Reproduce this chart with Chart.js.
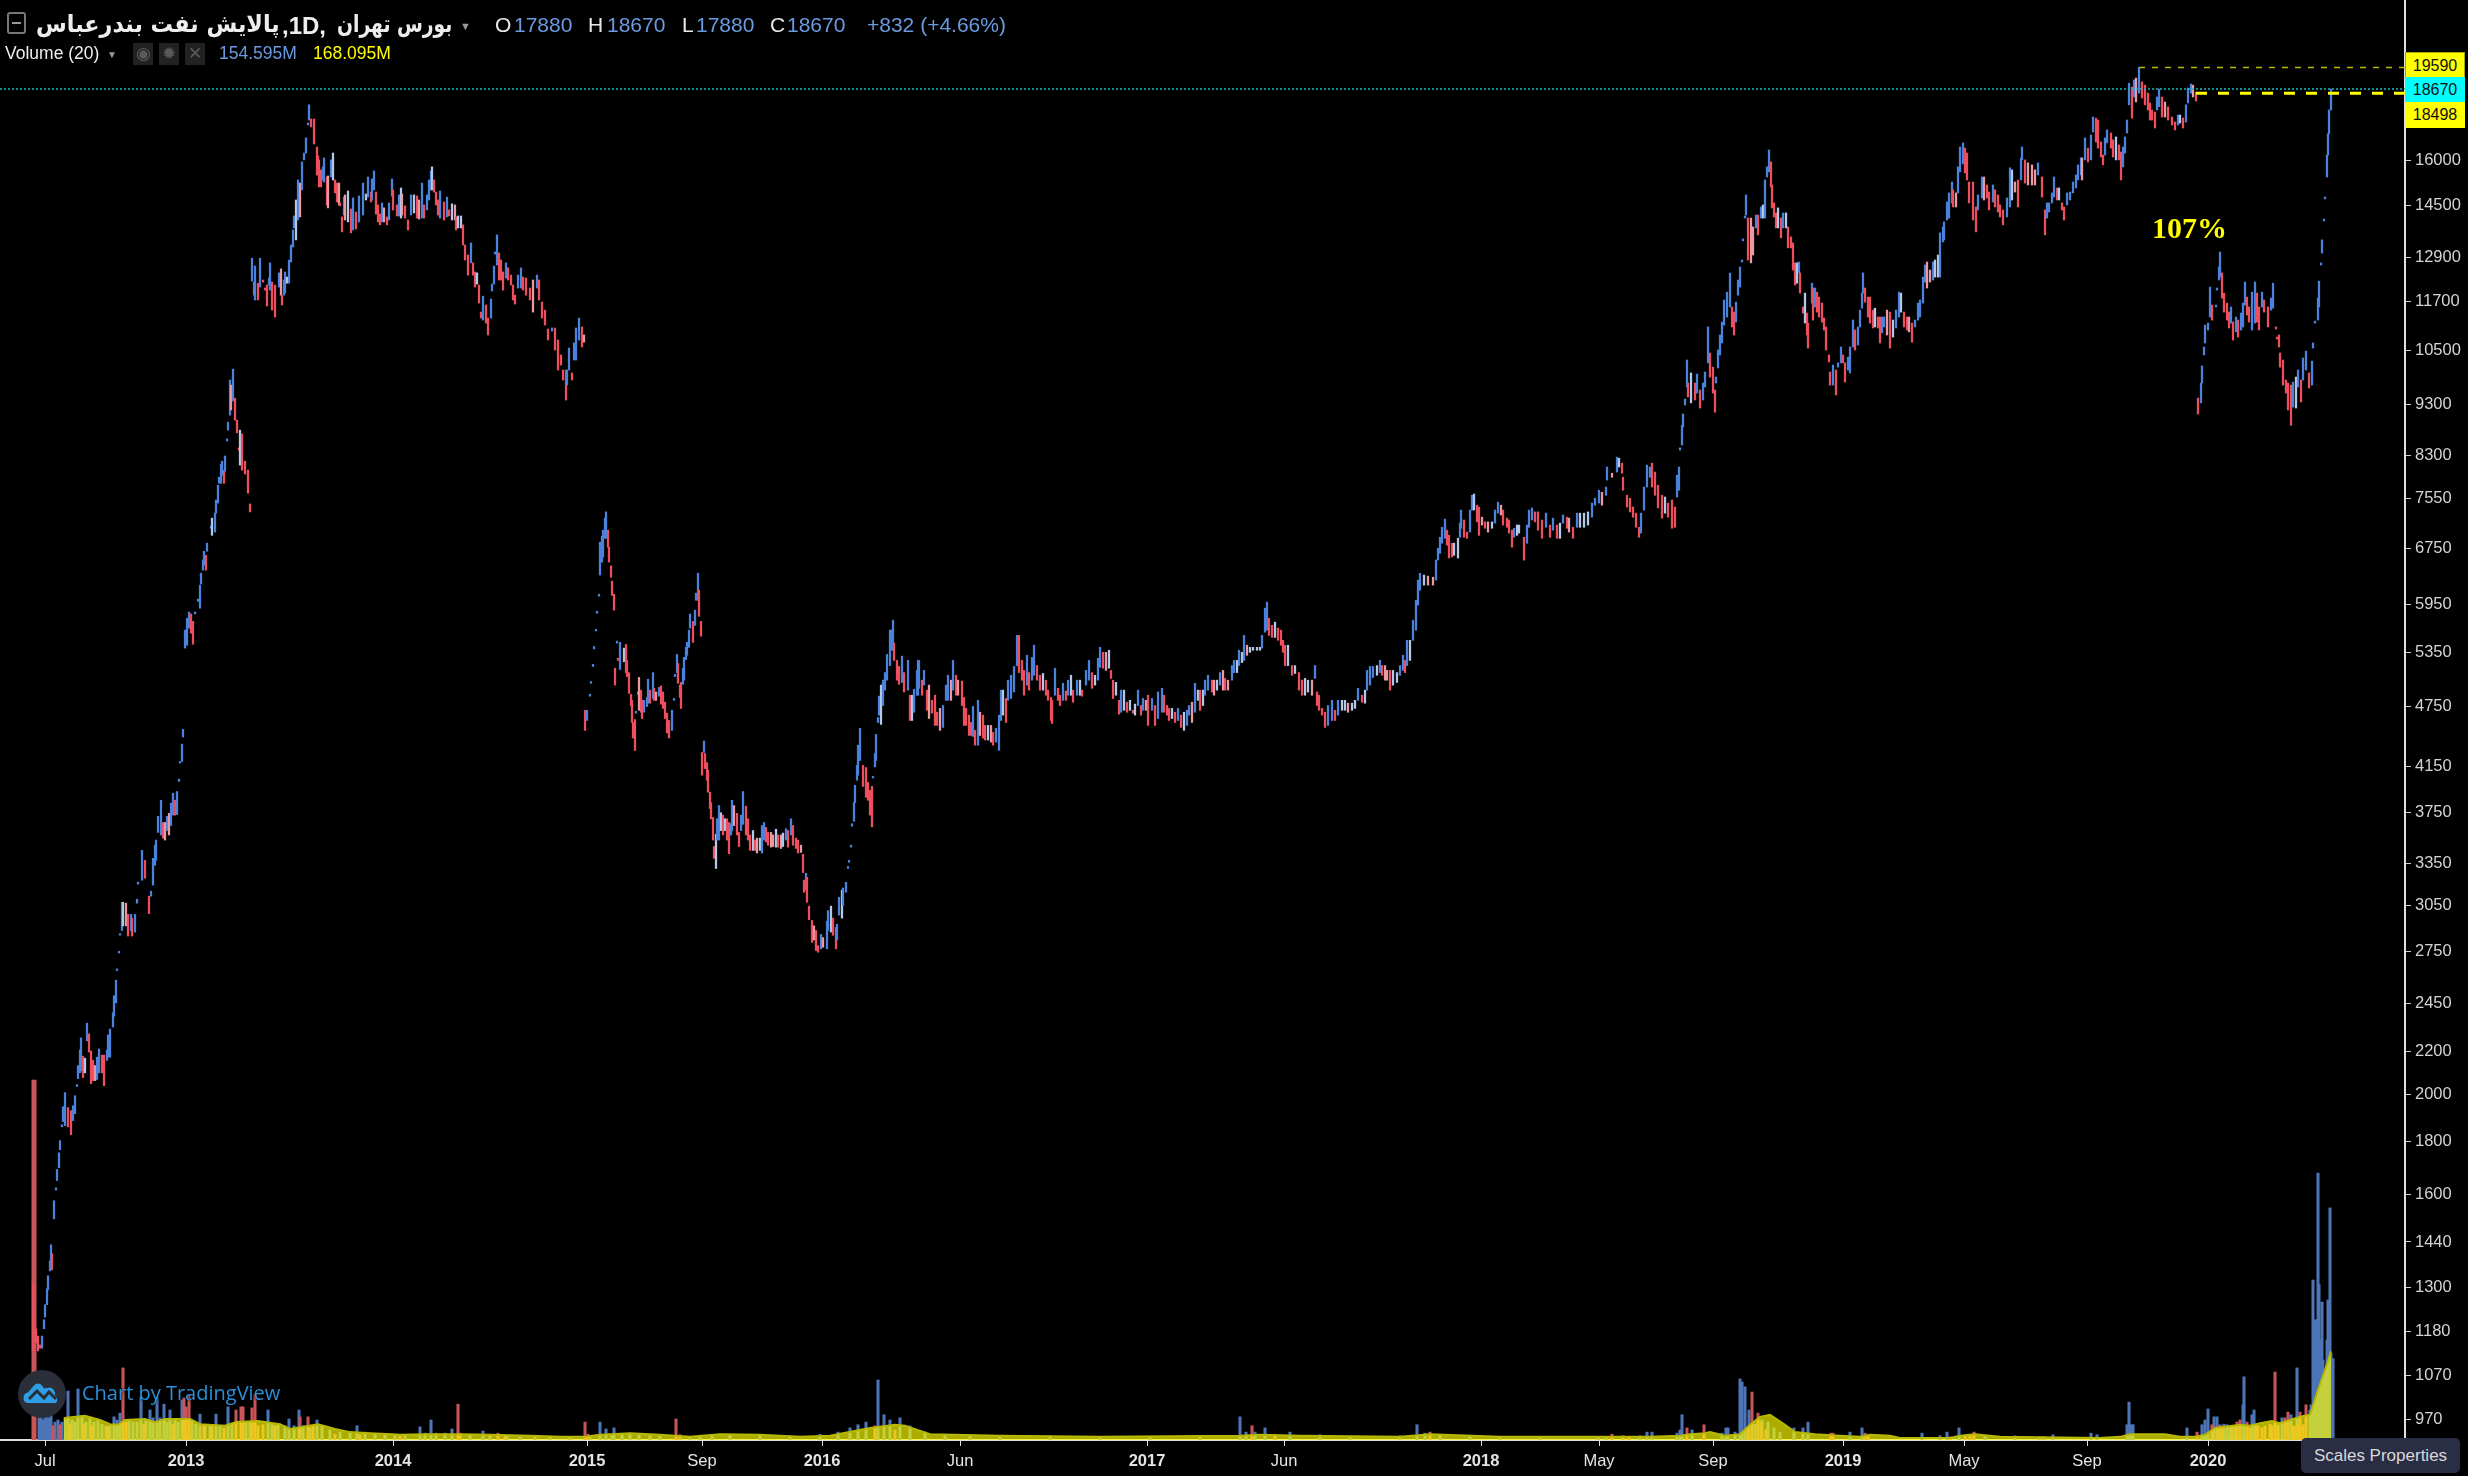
<!DOCTYPE html>
<html lang="fa">
<head>
  <meta charset="UTF-8">
  <title>پالایش نفت بندرعباس</title>
  <script src="https://cdn.jsdelivr.net/npm/chart.js"></script>
  <style>
    html, body { margin: 0; padding: 0; background: #000; overflow: hidden; }
    body { width: 2468px; height: 1476px; position: relative; font-family: "Liberation Sans", Arial, sans-serif; }
    #chart { position: absolute; left: 0; top: 0; }
    .txt { position: absolute; white-space: nowrap; line-height: 1; }
    .ohlc { font-size: 21px; top: 14px; color: #6a9be0; }
    .ohlc.key { color: #e8e8e8; }
    .fa { top: 10px; font: bold 24px "DejaVu Sans", sans-serif; color: #eee; transform-origin: left center; }
    .tag { position: absolute; left: 2405px; width: 60px; color: #111; font-size: 16px; text-align: center; box-sizing: border-box; }
    .icon { position: absolute; top: 43px; width: 20px; height: 22px; background: #222; color: #5a5a5a; font-size: 17px; line-height: 22px; text-align: center; }
  </style>
</head>
<body>
  <canvas id="chart" width="2468" height="1476"></canvas>

  <!-- header -->
  <div style="position:absolute;left:7px;top:12px;width:15px;height:18px;border:2px solid #777;border-radius:3px"><div style="margin:8px 3px 0;height:2px;background:#999"></div></div>
  <div class="txt fa" dir="rtl" style="left:36px;transform:scaleX(0.93)">پالایش نفت بندرعباس</div>
  <div class="txt" dir="ltr" style="left:282px;top:12px;font:bold 24px 'Liberation Sans';color:#eee">,1D,</div>
  <div class="txt fa" dir="rtl" style="left:337px;transform:scaleX(0.78)">بورس تهران</div>
  <div class="txt" style="left:460px;top:21px;color:#999;font-size:11px">▼</div>
  <div class="txt ohlc key" style="left:495px">O</div><div class="txt ohlc" style="left:514px">17880</div>
  <div class="txt ohlc key" style="left:588px">H</div><div class="txt ohlc" style="left:607px">18670</div>
  <div class="txt ohlc key" style="left:682px">L</div><div class="txt ohlc" style="left:696px">17880</div>
  <div class="txt ohlc key" style="left:770px">C</div><div class="txt ohlc" style="left:787px">18670</div>
  <div class="txt ohlc" style="left:867px">+832 (+4.66%)</div>
  <div class="txt" style="left:5px;top:45px;font-size:17.5px;color:#eee">Volume (20)</div>
  <div class="txt" style="left:107px;top:50px;color:#999;font-size:10px">▼</div>
  <div class="icon" style="left:133px">◉</div><div class="icon" style="left:159px">✹</div><div class="icon" style="left:185px">✕</div>
  <div class="txt" style="left:219px;top:45px;font-size:17.5px;color:#6a9be0">154.595M</div>
  <div class="txt" style="left:313px;top:45px;font-size:17.5px;color:#ffff00">168.095M</div>

  <!-- price tags -->
  <div class="tag" style="top:52px;height:25px;line-height:25px;background:#ffff00;border:1px solid #a8a800;border-bottom:0">19590</div>
  <div class="tag" style="top:77px;height:25px;line-height:25px;background:#00ffff">18670</div>
  <div class="tag" style="top:102px;height:26px;line-height:26px;background:#ffff00">18498</div>
  <div class="txt" style="left:2152px;top:211px;font:bold 30px 'Liberation Serif',serif;color:#ffff00">107%</div>

  <!-- watermark -->
  <svg style="position:absolute;left:18px;top:1370px" width="48" height="48" viewBox="0 0 48 48">
    <circle cx="24" cy="24" r="24" fill="#2a2e39"/>
    <path d="M9 33 a5.5 5.5 0 0 1 1-10.5 l6-7 a5 5 0 0 1 8 0 l2 3 6-1 a7 7 0 0 1 5 8 a5 5 0 0 1 1 7.5 z" fill="#2e9fe6"/>
    <path d="M11 29 l8-8 7 7 5-6 7 7" stroke="#2a2e39" stroke-width="3" fill="none"/>
  </svg>
  <div class="txt" style="left:82px;top:1379px;font:20px 'Open Sans',sans-serif;color:#2a8fd8;text-shadow:0 0 3px #000">Chart by TradingView</div>
  <div class="txt" style="left:2301px;top:1438px;width:159px;height:35px;line-height:35px;text-align:center;background:#2a2e44;border-radius:5px;color:#d8d8d8;font-size:17px">Scales Properties</div>

  <script>
    // candles: session number, high, low
    const barNo = [
      0,3,5,7,9,11,12,14,15,17, 18,19,21,23,24,26,27,29,30,32,
      35,38,40,42,44,45,47,48,50,52, 54,56,58,60,62,64,66,69,71,74,
      75,77,80,81,83,84,86,87,89,90, 93,95,98,99,102,104,105,109,112,116,
      118,120,122,123,125,128,130,132,134,136, 138,140,142,144,146,147,149,150,152,154,
      156,158,160,162,165,167,168,170,171,173, 174,178,179,182,183,185,186,188,189,191,
      192,194,195,197,198,200,202,204,206,207, 209,212,215,217,219,221,222,225,227,230,
      232,234,236,237,239,242,246,248,249,251, 252,254,256,258,260,261,263,265,267,269,
      271,273,275,276,278,281,284,285,286,288, 290,291,294,295,298,300,302,304,306,307,
      309,311,312,315,318,320,323,326,330,333, 335,338,339,341,343,345,347,349,351,354,
      356,359,360,364,366,368,369,372,375,378, 381,384,386,389,391,394,396,398,399,401,
      403,405,407,411,414,416,419,422,423,425, 428,430,432,435,438,440,442,444,446,448,
      450,453,455,458,459,461,462,464,466,468, 470,473,475,478,480,482,485,488,490,493,
      497,500,504,506,509,512,515,519,522,525, 528,530,533,534,536,539,541,543,546,549,
      551,552,554,557,558,560,561,563,564,566, 567,569,570,572,573,575,576,578,579,581,
      582,584,585,587,591,593,594,596,598,599, 600,602,603,605,606,608,609,611,614,615,
      617,620,621,623,626,628,630,632,634,636, 639,641,642,644,645,647,648,650,651,653,
      654,656,657,660,662,663,665,666,668,669, 671,672,674,675,677,678,680,681,683,684,
      686,688,690,692,694,696,698,699,701,704, 706,708,710,713,715,717,720,722,724,727,
      729,731,733,735,738,740,743,745,748,750, 753,755,758,760,763,765,768,770,771,773,
      774,776,779,781,783,785,788,790,794,795, 798,800,803,804,806,809,810,813,815,816,
      818,819,821,822,824,825,827,830,833,835, 837,839,840,842,843,845,846,848,850,852,
      854,857,858,860,861,864,866,869,871,875, 877,879,881,884,885,886,889,891,894,896,
      899,902,904,907,910,913,915,918,920,923, 925,929,931,933,936,938,940,942,945,947,
      950,952,955,958,960,963,966,968,970,973, 975,978,981,984,986,989,991,994,996,999,
      1001,1004,1007,1010,1013,1015,1018,1019,1022,1025, 1027,1030,1033,1035,1038,1040,1044,1047,1049,1053,
      1056,1059,1062,1065,1067,1070,1073,1076,1078,1080, 1083,1086,1088,1091,1094,1097,1100,1102,1105,1108,
      1110,1113,1115,1119,1122,1125,1129,1131,1134,1136, 1139,1142,1145,1148,1151,1154,1156,1159,1162,1165,
      1167,1170,1172,1175,1179,1181,1184,1187,1190,1192, 1195,1199,1201,1204,1206,1209,1211,1214,1217,1220,
      1224,1227,1229,1232,1234,1236,1239,1242,1245,1248, 1250,1252,1255,1259,1262,1266,1269,1272,1275,1279,
      1282,1284,1286,1289,1292,1295,1299,1302,1305,1309, 1312,1315,1319,1322,1325,1329,1332,1334,1337,1340,
      1344,1347,1349,1352,1354,1357,1360,1364,1367,1370, 1372,1374,1377,1380,1383,1385,1387,1391,1395,1400,
      1403,1405,1407,1409,1412,1414,1416,1419,1421,1425, 1427,1428,1431,1434,1437,1439,1441,1444,1446,1449,
      1452,1455,1459,1462,1465,1468,1470,1474,1476,1479, 1481,1484,1486,1491,1494,1496,1499,1502,1505,1509,
      1513,1517,1520,1524,1527,1530,1534,1536,1540,1544, 1547,1551,1555,1559,1562,1566,1569,1573,1574,1579,
      1584,1586,1589,1590,1594,1597,1600,1603,1606,1608, 1611,1614,1617,1619,1622,1625,1629,1632,1635,1639,
      1642,1644,1646,1647,1649,1650,1652,1654,1655,1658, 1662,1664,1667,1670,1672,1675,1677,1680,1682,1683,
      1685,1687,1689,1691,1694,1697,1699,1701,1703,1705, 1707,1709,1710,1712,1713,1715,1718,1720,1723,1725,
      1728,1730,1732,1734,1736,1738,1739,1741,1743,1745, 1748,1750,1753,1755,1758,1760,1762,1764,1766,1767,
      1770,1772,1774,1775,1779,1780,1782,1784,1786,1789, 1791,1793,1796,1797,1800,1803,1805,1808,1810,1812,
      1815,1817,1820,1822,1825,1827,1829,1830,1832,1835, 1837,1840,1842,1845,1847,1849,1851,1854,1857,1860,
      1863,1866,1868,1871,1874,1876,1879,1882,1885,1887, 1890,1892,1894,1897,1900,1902,1905,1907,1910,1911,
      1914,1916,1919,1920,1923,1925,1927,1930,1932,1934, 1936,1940,1943,1945,1949,1951,1954,1956,1960,1962,
      1965,1967,1970,1974,1977,1979,1982,1985,1988,1989, 1992,1995,1999,2002,2005,2009,2012,2014,2016,2019,
      2021,2024,2026,2029,2031,2034,2037,2040,2043,2045, 2048,2049,2052,2055,2058,2060,2063,2065,2068,2070,
      2072,2074,2078,2080,2083,2086,2088,2090,2092,2094, 2096,2099,2101,2103,2106,2109,2112,2115,2117,2119,
      2122,2124,2126,2129,2132,2135,2139,2142,2145,2147, 2150,2153,2155,2158,2160,2163,2165,2168,2169,2171,
      2172,2175,2177,2179,2183,2184,2186,2187,2189,2191, 2194,2196,2198,2200,2203,2205,2208,2210,2212,2214,
      2216,2219,2222,2224,2226,2229,2231,2235,2238,2240, 2243,2244,2246,2247,2250,2253,2255,2258,2260,2263,
      2265,2268,2270,2273,2276,2279,2280,2282,2285,2286, 2288,2289,2291,2292,2294,2295,2296,2298
    ];
    const barHigh = [
      1310,1183,1164,1141,1164,1207,1248,1293,1331,1376, 1426,1398,1573,1619,1686,1750,1798,1863,1939,2001,
      1935,1922,1943,1987,2037,2125,2200,2260,2170,2160, 2335,2280,2195,2150,2125,2165,2205,2175,2175,2200,
      2275,2305,2390,2482,2570,2635,2740,2850,3056,3056, 3050,2975,2975,2950,2975,3077,3196,3430,3355,3098,
      3133,3370,3470,3510,3700,3835,3650,3650,3700,3725, 3810,3895,3835,3910,4020,4180,4345,4490,5600,5750,
      5830,5805,5710,5830,6000,6190,6357,6545,6675,6615, 6795,7060,7185,7265,7480,7730,7870,8100,8155,7995,
      8250,8570,8895,9770,9660,10010,9385,8935,8400,8740, 8665,8155,7995,7415,12810,12150,12590,12120,12810,12205,
      11990,12070,12260,12680,12150,12070,12400,12510,11800,12205, 12425,12285,12760,13195,13645,14075,14585,15250,15145,15875,
      16190,16745,17310,18025,17465,17465,16410,16085,15945,15595, 15700,16015,15350,15385,15945,16190,15250,15145,15145,14490,
      14045,14680,14750,14880,14295,14650,14200,14715,15145,14780, 15350,14845,15285,15560,14845,14425,14135,14490,14330,14045,
      14490,15285,14915,14425,14750,14980,14780,14395,13950,14750, 14750,14715,14585,15145,14425,14750,15250,15560,15700,15250,
      14845,14585,14880,14520,14680,14265,14460,14425,14045,14075, 14075,13800,13195,12905,13255,12680,12425,12400,12070,11365,
      11775,11545,11215,11700,12095,12590,12990,13495,12960,12760, 12425,12680,12540,12340,12070,11800,12340,12540,12285,12260,
      11990,12205,12340,12205,11620,11415,10945,10970,10970,10680, 10330,9990,9990,9990,10490,9925,10610,10970,11215,10995,
      10800,4685,4685,4855,4995,5190,5400,5610,5840,6065, 6810,6900,6995,7185,7285,6995,6735,6460,6245,6065,
      5145,5465,5260,5450,5380,5425,5235,5095,4855,4790, 4560,4590,4675,4880,5040,4900,4790,4790,4820,5020,
      4900,5095,4920,4880,4930,4945,4880,4770,4655,4580, 4685,4810,5075,5305,5200,4955,4985,5145,5270,5390,
      5450,5600,5805,5710,5855,6080,6355,6120,5710,4265, 4375,4255,4170,4100,3905,3815,3690,3460,3555,3680,
      3790,3730,3710,3680,3680,3650,3640,3835,3790,3725, 3570,3710,3910,3785,3680,3550,3585,3510,3525,3525,
      3625,3650,3610,3570,3570,3550,3595,3550,3550,3565, 3600,3585,3680,3625,3525,3510,3470,3400,3210,3260,
      3230,3030,2935,2900,2870,2775,2845,2825,2930,3000, 3030,2950,2890,2910,3090,3140,3155,3195,3310,3355,
      3470,3640,3815,3965,4145,4335,4500,4145,4125,3990, 3920,3955,4045,4255,4440,4610,4835,4955,5010,5095,
      5305,5600,5600,5725,5440,5235,5165,5285,5095,5235, 4845,4845,4910,5120,5235,5235,5010,5120,4900,4955,
      4790,4845,4665,4705,4735,4955,5065,5010,5235,5065, 5010,5000,4820,4705,4635,4560,4725,4480,4790,4665,
      4635,4530,4530,4530,4460,4500,4635,4900,4900,4810, 5010,5065,5165,5535,5535,5235,5120,5295,5095,5270,
      5415,5175,5065,5085,5010,4900,4820,4790,5145,4920, 4845,4975,4890,5010,5065,4900,5010,5010,4900,5120,
      5235,5095,5065,5260,5390,5330,5330,5355,5120,5010, 4985,4790,4900,4900,4770,4790,4685,4750,4900,4735,
      4810,4790,4845,4810,4735,4880,4920,4845,4735,4705, 4705,4665,4705,4635,4665,4685,4735,4770,4975,4900,
      4900,4900,5010,5065,5010,5010,5010,5095,5120,5030, 5010,5175,5235,5235,5355,5330,5535,5415,5390,5390,
      5390,5390,5535,5880,5960,5750,5660,5700,5625,5600, 5475,5415,5415,5175,5175,5095,5010,5030,5010,5010,
      5175,4880,4845,4705,4665,4735,4790,4685,4790,4790, 4790,4760,4760,4790,4920,4845,4900,5120,5165,5165,
      5175,5235,5175,5175,5120,5120,5120,5095,5175,5295, 5235,5475,5475,5725,5985,6260,6355,6330,6315,6300,
      6545,6720,6885,7040,7170,6995,6915,6795,6795,6870, 7105,7315,7155,6965,7315,7560,7580,7395,7365,7200,
      7125,7125,7125,7315,7445,7395,7315,7185,7155,6995, 7025,7075,7075,6885,7075,7315,7350,7285,7285,7155,
      7265,7075,7185,7075,7105,7235,7200,7185,7040,7265, 7265,7265,7285,7430,7510,7645,7610,7700,8050,7940,
      8230,8210,8120,7870,7560,7510,7365,7265,7040,7265, 7700,8085,8050,8120,7960,7730,7560,7530,7430,7480,
      7365,7905,8050,8400,8835,9060,9365,10215,9705,9925, 9705,9900,9555,9705,9945,10995,10375,10055,9555,9835,
      10445,10800,11115,11675,11880,12395,11495,11365,11620,12205, 12565,12760,13375,14075,14750,14010,14010,13735,14105,14105,
      14360,14425,15250,15700,16300,15875,15080,14490,14170,14330, 14010,14170,14170,13735,13435,13255,12680,12680,12705,12400,
      11495,11855,11340,11090,12120,11990,11990,11880,11750,11595, 11215,10995,10330,9945,10100,9990,10150,10515,10330,10150,
      10280,10515,11165,10920,10995,11415,11855,12400,11990,11750, 11750,11415,11465,11240,11240,11240,11240,11415,11365,11165,
      11415,11880,11855,11365,11240,11240,11090,11165,11595,11675, 12285,12620,12705,12480,12705,12760,12905,13555,13735,13890,
      14520,14815,15180,14915,14815,15700,16410,16560,16370,16190, 15180,15180,14360,14750,15350,15350,15080,14845,15080,14915,
      14750,14425,14265,14650,15665,15595,15180,15250,16015,16410, 15945,15840,15770,15595,15840,15350,14265,14490,14490,14815,
      15350,14980,14980,14490,14360,14815,14845,15180,15420,15770, 16015,16015,16745,16370,16855,17540,17500,17425,16595,16120,
      16745,17045,16930,16670,16780,16485,16225,16410,16780,17425, 18910,18750,19050,19130,19590,18970,18830,18500,18100,17820,
      17740,18340,18670,18340,18140,17945,17540,17350,17620,17620, 17500,18025,18710,18880,18830,18540,9385,9705,10080,10515,
      11040,11090,12015,11545,11545,11990,12565,12990,12400,11855, 11595,11365,11495,11115,11240,11165,11340,11595,12150,11750,
      11495,11880,12150,11855,11495,11880,11675,11495,11725,12120, 10995,10750,10800,10375,10215,9770,9705,9660,9725,9835,
      9990,9770,10260,10420,9925,10190,10610,11140,11725,12175, 12680,13345,13980,14680,16120,16895,17820,18670
    ];
    const barLow = [
      1126,1146,1126,1133,1133,1183,1214,1248,1290,1346, 1376,1349,1511,1611,1645,1693,1762,1854,1876,1859,
      1854,1822,1880,1909,2028,2064,2091,2100,2069,2091, 2245,2190,2041,2055,2055,2060,2091,2091,2032,2150,
      2165,2165,2315,2372,2443,2625,2730,2840,2870,2900, 2900,2835,2870,2835,2860,3050,3182,3210,3224,2980,
      3098,3175,3318,3355,3570,3550,3525,3510,3585,3550, 3625,3710,3710,3715,4000,4165,4180,4415,5380,5415,
      5625,5562,5427,5805,5970,5880,6205,6400,6470,6400, 6675,7025,6915,6965,7265,7430,7765,7765,7905,7765,
      7975,8530,8740,9035,9140,9325,8935,8685,8360,8085, 7995,7925,7595,7285,12175,11800,11675,11675,12015,12150,
      11935,11520,12070,11935,11415,11240,12015,11800,11545,11800, 11855,12120,12120,12705,13135,13705,13345,13950,14045,14915,
      15945,16190,17235,17425,17160,16520,15420,15420,15015,15015, 15250,15180,14425,14330,15350,15250,14815,14520,14425,14395,
      13585,14105,13950,13890,13555,13645,13675,13890,14105,14585, 14680,14520,14585,14915,14135,13890,13800,13890,13890,13800,
      13950,14715,14265,14075,14075,14010,14105,14010,13645,14105, 14170,14010,13980,14010,14010,14265,14585,14915,14915,14845,
      14425,14105,14010,13950,14045,14075,13950,13950,13645,13705, 13705,13195,12760,12340,12680,12340,12015,12095,11595,11215,
      11165,11090,10800,11215,11910,12095,12930,12620,12205,12205, 11935,12260,12205,12070,11675,11570,11990,11990,11935,11800,
      11675,11365,11990,11675,11215,11040,10680,10895,10445,9990, 10100,9770,9345,9660,9990,9770,10215,10215,10680,10515,
      10630,4480,4580,4835,4975,5165,5370,5590,5815,6040, 6330,6515,6590,6870,6870,6735,6515,6300,6050,5855,
      4955,5440,5235,5130,5220,5095,5050,4865,4735,4560, 4405,4285,4655,4855,4685,4665,4600,4665,4725,4760,
      4760,4810,4790,4790,4835,4750,4705,4600,4455,4405, 4480,4790,5050,5095,4975,4820,4705,4965,5010,5245,
      5295,5390,5625,5450,5660,5985,5985,5775,5525,4055, 4265,4115,4010,3905,3765,3680,3510,3370,3295,3510,
      3510,3585,3550,3585,3510,3405,3550,3585,3625,3550, 3460,3585,3635,3550,3510,3430,3430,3430,3410,3430,
      3410,3510,3495,3470,3455,3460,3455,3455,3445,3460, 3510,3455,3550,3470,3445,3410,3415,3265,3125,3140,
      3056,2940,2795,2810,2745,2735,2755,2765,2755,2870, 2860,2840,2755,2810,2970,2950,3035,3125,3295,3340,
      3455,3620,3660,3815,4010,4055,4190,3955,3860,3835, 3710,3615,4030,4130,4190,4560,4635,4540,4735,4900,
      5010,5175,5355,5355,5235,5010,4965,4985,4880,4900, 4580,4580,4665,4845,4845,4920,4845,4955,4685,4600,
      4655,4530,4530,4480,4510,4790,4790,4790,4900,4845, 4845,4735,4530,4530,4430,4430,4420,4335,4335,4430,
      4405,4385,4385,4365,4335,4365,4285,4580,4635,4560, 4790,4810,4880,5175,5095,5010,4845,4955,4900,5010,
      5065,5010,4900,4900,4845,4790,4580,4550,4845,4790, 4735,4790,4790,4845,4845,4770,4845,4845,4835,4955,
      5010,4920,4955,5010,5155,5145,5120,5145,5030,4810, 4845,4645,4665,4685,4665,4685,4655,4635,4735,4635,
      4685,4685,4530,4685,4530,4600,4665,4665,4635,4580, 4600,4560,4580,4510,4480,4530,4635,4560,4665,4790,
      4685,4735,4845,4900,4880,4845,4900,4955,4900,4900, 4900,5010,5095,5095,5175,5210,5235,5295,5330,5355,
      5355,5355,5380,5575,5600,5535,5510,5510,5475,5415, 5330,5175,5175,5065,5085,4900,4845,4845,4880,4845,
      5030,4735,4685,4635,4510,4530,4580,4580,4635,4685, 4685,4665,4685,4705,4790,4770,4760,4900,4955,5040,
      5065,5095,5065,5010,5010,4900,4955,4985,5065,5120, 5095,5175,5235,5475,5600,5920,6120,6190,6190,6190,
      6260,6545,6645,6795,6870,6765,6575,6590,6615,6575, 6885,7025,6885,6870,6965,7315,7315,7125,6915,7075,
      7025,6965,7025,7105,7265,7235,7075,7040,6950,6735, 6885,6915,6950,6545,6795,7040,7155,7125,6995,6870,
      7040,6885,6995,6870,6870,7105,7025,6965,6870,7040, 7040,7040,7075,7200,7395,7430,7395,7560,7820,7870,
      7960,8050,7940,7645,7365,7285,7200,7040,6885,6950, 7315,7700,7870,7700,7560,7350,7185,7265,7200,7025,
      7040,7530,7645,8360,8455,8800,9240,9620,9410,9285, 9345,9490,9180,9345,9620,10150,9835,9490,9095,9705,
      10035,10330,10610,11040,11240,11495,10995,10800,11115,11800, 12015,12705,13315,14010,14105,12760,12680,12905,13705,13495,
      14010,14010,14010,15350,15525,15015,14330,14045,13705,13705, 13405,13705,13705,13110,13110,12480,12070,12120,12400,11855,
      11340,11090,10800,10490,11595,11165,11495,11365,11240,11115, 10920,10445,10170,9660,9660,9450,10055,10150,10150,9725,
      9990,9925,10515,10445,10560,10995,11465,11855,11620,11240, 11090,10970,10995,10970,10610,10850,10995,10800,10490,10750,
      10970,11240,11365,10995,10920,10875,10630,10995,11165,11240, 11595,12150,11990,12150,12205,12285,12285,12285,13285,13345,
      13950,14010,14490,14360,14360,14815,15525,15805,15490,15250, 14490,13950,13585,14265,14650,14585,14650,14265,14520,14360,
      14200,14045,13800,14045,14360,14585,14845,14360,15250,15945, 15145,15080,15080,15080,15420,14680,13495,14010,14200,14490,
      14680,14585,14585,14265,13950,14425,14585,14815,14980,15250, 15420,15250,15945,15875,15945,16970,16595,16370,16050,15770,
      16120,16560,16370,16050,15945,15945,15250,15700,16190,16930, 18025,17500,18340,18140,18500,18300,18025,17820,17425,17425,
      17120,17820,17945,17540,17540,17425,17235,17045,17235,17310, 17120,17350,18100,18500,18340,18180,9060,9285,9705,10330,
      10610,10920,11240,11165,11495,11935,12205,12285,11725,11365, 11165,10970,11090,10680,10875,10750,10920,10995,11545,11290,
      11115,10920,11090,11115,10920,11495,11365,10995,11415,11465, 10945,10705,10515,10055,9660,9490,9140,8835,9200,9180,
      9620,9305,9770,9990,9600,9660,10490,11090,11165,11495, 12620,12960,13920,14620,15350,16120,16895,17820
    ];

    // volume in millions, rising days
    const volUpNo = [
      6,8,10,12,14,16,18,22,25,29, 32,35,39,42,45,49,53,57,61,65,
      69,73,77,81,84,87,96,100,104,108, 113,117,120,124,127,131,134,137,142,145,
      149,159,163,167,172,177,183,187,195,199, 213,217,235,239,245,252,256,261,266,270,
      277,284,289,297,307,317,324,332,342,352, 362,372,387,392,398,403,412,419,437,450,
      457,474,487,502,517,537,557,567,573,579, 581,589,597,606,617,627,657,667,679,697,
      727,757,787,805,817,825,833,845,851,857, 867,877,892,912,937,967,1017,1067,1117,1167,
      1207,1213,1222,1232,1257,1287,1317,1367,1384,1392, 1407,1437,1467,1507,1565,1573,1607,1614,1619,1644,
      1647,1649,1659,1689,1693,1695,1702,1707,1709,1712, 1716,1722,1729,1735,1741,1747,1761,1770,1775,1817,
      1829,1889,1907,1914,1926,1952,1982,2007,2020,2058, 2064,2094,2096,2098,2100,2154,2169,2172,2175,2181,
      2184,2187,2191,2194,2197,2202,2210,2211,2219,2221, 2245,2249,2258,2264,2277,2278,2280,2282,2283,2284,
      2285,2286,2287,2288,2289,2290,2292,2294,2295,2297, 2298,2300
    ];
    const volUpM = [
      42,48,38,46,53,42,48,34,38,34, 42,93,38,34,97,46,34,42,34,38,
      30,27,27,44,38,51,38,34,34,82, 38,57,42,82,42,68,34,57,38,34,
      76,38,30,49,29,27,49,27,63,30, 34,34,57,29,30,27,40,27,57,27,
      23,38,27,19,15,15,27,15,11,10, 10,10,25,13,38,13,13,21,10,17,
      11,8,6,6,6,6,8,34,21,11, 23,11,11,11,8,8,6,6,8,11,
      10,8,11,15,23,29,34,114,48,38, 42,27,15,11,8,6,8,6,6,6,
      44,15,15,23,15,10,6,8,29,13, 10,8,6,6,6,6,8,15,15,13,
      19,48,19,13,23,23,15,116,110,101, 57,30,38,34,23,15,23,23,34,15,
      23,13,8,15,23,8,8,6,10,13, 10,29,72,29,29,23,29,38,59,44,
      44,29,30,29,27,27,67,120,48,57, 29,42,48,137,57,67,304,228,228,228,
      507,295,190,162,262,152,133,190,266,441, 165,154.595
    ];
    // volume in millions, falling days
    const volDownNo = [
      0,2,20,27,37,51,59,75,90,93, 111,140,151,153,156,171,179,191,203,208,
      210,219,222,225,230,242,267,275,280,302, 327,367,425,427,465,472,552,555,643,647,
      842,862,1219,1242,1397,1579,1590,1596,1654,1671, 1715,1719,1725,1728,1733,1798,1800,1832,1835,1917,
      1932,1937,1941,2011,2164,2179,2185,2189,2199,2204, 2207,2214,2217,2223,2225,2229,2232,2237,2239,2242,
      2245,2252,2255,2260,2262,2265,2267,2270,2273
    ];
    const volDownM = [
      684,684,27,29,30,30,27,25,137,34, 30,30,80,63,85,27,29,23,57,63,
      63,61,87,27,29,27,44,44,27,11, 10,8,68,13,13,8,34,11,40,10,
      27,19,27,11,15,11,8,6,23,29, 23,91,51,34,19,13,13,13,10,6,
      8,11,15,6,15,29,27,27,27,34, 38,34,23,29,27,23,27,30,27,129,
      27,42,53,27,25,30,53,29,67,89
    ];

    // 20 day volume average
    const volMaNo = [
      31,52,67,77,85,92,112,122,132,157, 167,192,203,225,247,257,285,302,317,337,
      359,367,392,427,457,497,527,552,567,597, 627,657,687,727,767,797,837,862,872,897,
      967,1067,1207,1227,1267,1367,1397,1467,1567,1617, 1647,1657,1672,1677,1692,1707,1717,1727,1737,1752,
      1762,1782,1807,1827,1837,1857,1867,1917,1927,1942, 1967,2067,2087,2097,2117,2132,2147,2162,2172,2182,
      2207,2217,2227,2239,2247,2267,2277,2285,2292,2298
    ];
    const volMaM = [
      42,46,38,30,29,38,40,34,40,40, 30,27,34,36,30,21,30,21,15,13,
      11,10,11,11,10,8,6,6,10,13, 10,6,11,10,6,8,23,29,27,11,
      8,6,8,10,8,6,11,6,6,6, 8,11,13,15,8,11,29,44,48,29,
      15,11,8,6,10,8,4,4,8,11, 6,4,6,11,11,11,6,6,10,23,
      29,27,32,36,32,44,48,95,133,168.095
    ];

    // marked levels on the price scale
    const lastClose = 18670;
    const highLevel = 19590;
    const breakLevel = 18498;
    const highLevelFrom = 2106;
    const breakLevelFrom = 2163;

    // the source rounds its log axis labels, so a tick sits a little off its label
    const yTickLabels = [23000,16000,14500,12900,11700,10500,9300,8300,7550,6750,5950,5350,4750,4150,3750,3350,3050,2750,2450,2200,2000,1800,1600,1440,1300,1180,1070,970];
    const yTickAt = [23000,15910,14420,12830,11635,10440,9250,8255,7510,6715,5925,5330,4725,4135,3735,3335,3037,2738,2440,2191,1992,1793,1594,1435,1296,1176,1066,967];
    const xTickNo = [12,153,360,554,669,789,927,1114,1251,1448,1566,1680,1810,1931,2054,2175];
    const xTickLabels = ['Jul','2013','2014','2015','Sep','2016','Jun','2017','Jun','2018','May','Sep','2019','May','Sep','2020'];

    const BLUE = '#4a82dc', RED = '#ee4f5f', PALE_BLUE = '#b4c8e8', PALE_RED = '#eb9aa4';

    // colour by how the bar moved against the one before it
    const barColors = barNo.map((_, i) => {
      if (i === 0) return RED;
      const mid = (barHigh[i] + barLow[i]) / 2;
      const prev = (barHigh[i - 1] + barLow[i - 1]) / 2;
      const change = mid / prev - 1;
      if (change > 0.006) return BLUE;
      if (change < -0.006) return RED;
      return change >= 0 ? PALE_BLUE : PALE_RED;
    });

    const pairs = (xs, ys) => xs.map((x, i) => ({ x: x, y: ys[i] }));

    new Chart(document.getElementById('chart'), {
      type: 'bar',
      data: {
        datasets: [
          {
            label: 'Volume up', yAxisID: 'yVol', order: 6, grouped: false, barThickness: 2.4,
            backgroundColor: '#4d75b8', data: pairs(volUpNo, volUpM)
          },
          {
            label: 'Volume down', yAxisID: 'yVol', order: 5, grouped: false, barThickness: 2.4,
            backgroundColor: '#c9555a', data: pairs(volDownNo, volDownM)
          },
          {
            label: 'Volume MA', type: 'line', yAxisID: 'yVol', order: 4, pointRadius: 0, tension: 0,
            borderColor: '#b8b800', borderWidth: 2, fill: 'origin',
            backgroundColor: 'rgba(255,255,0,0.67)', data: pairs(volMaNo, volMaM)
          },
          {
            label: 'Price', yAxisID: 'y', order: 3, grouped: false, barThickness: 1.6,
            backgroundColor: barColors,
            data: barNo.map((n, i) => ({ x: n, y: [barLow[i], barHigh[i]] }))
          },
          {
            label: 'Last', type: 'line', yAxisID: 'y', order: 2, pointRadius: 0,
            borderColor: '#1fb8b8', borderWidth: 1.5, borderDash: [2, 2],
            data: [{ x: -33, y: lastClose }, { x: 2372, y: lastClose }]
          },
          {
            label: 'High', type: 'line', yAxisID: 'y', order: 1, pointRadius: 0,
            borderColor: '#b8b800', borderWidth: 1.5, borderDash: [6, 7],
            data: [{ x: highLevelFrom, y: highLevel }, { x: 2372, y: highLevel }]
          },
          {
            label: 'Break', type: 'line', yAxisID: 'y', order: 1, pointRadius: 0,
            borderColor: '#ffff00', borderWidth: 3, borderDash: [11, 11],
            data: [{ x: breakLevelFrom, y: breakLevel }, { x: 2372, y: breakLevel }]
          }
        ]
      },
      options: {
        responsive: false,
        animation: false,
        devicePixelRatio: 1,
        layout: { padding: 0 },
        plugins: { legend: { display: false }, tooltip: { enabled: false } },
        scales: {
          x: {
            type: 'linear', position: 'bottom', offset: false, min: -33, max: 2372,
            border: { color: '#e0e0e0', width: 2 },
            grid: { display: true, offset: false, drawOnChartArea: false, drawTicks: true, tickLength: 6, color: '#e0e0e0' },
            afterBuildTicks: scale => { scale.ticks = xTickNo.map(v => ({ value: v })); },
            afterFit: scale => { scale.height = 36; scale.paddingLeft = 0; scale.paddingRight = 0; },
            ticks: {
              autoSkip: false, maxRotation: 0, padding: 6, color: '#e4e4e4',
              callback: v => xTickLabels[xTickNo.indexOf(v)],
              font: ctx => ({ size: 16.5, weight: /^\d/.test(ctx.tick && ctx.tick.label) ? 'bold' : 'normal', family: '"Liberation Sans", Arial' })
            }
          },
          y: {
            type: 'logarithmic', position: 'right', min: 923.6, max: 22760, bounds: 'data',
            border: { color: '#e0e0e0', width: 2 },
            grid: { display: true, drawOnChartArea: false, drawTicks: true, tickLength: 6, color: '#d0d0d0' },
            afterBuildTicks: scale => { scale.ticks = yTickAt.map(v => ({ value: v })); },
            afterFit: scale => { scale.width = 63; scale.paddingTop = 0; scale.paddingBottom = 0; },
            ticks: {
              autoSkip: false, padding: 4, crossAlign: 'near', color: '#d4d4d4',
              callback: v => String(yTickLabels[yTickAt.indexOf(v)]),
              font: { size: 16.5, family: '"Liberation Sans", Arial' }
            }
          },
          yVol: { type: 'linear', display: false, min: 0, max: 2736 }
        }
      }
    });
  </script>
</body>
</html>
